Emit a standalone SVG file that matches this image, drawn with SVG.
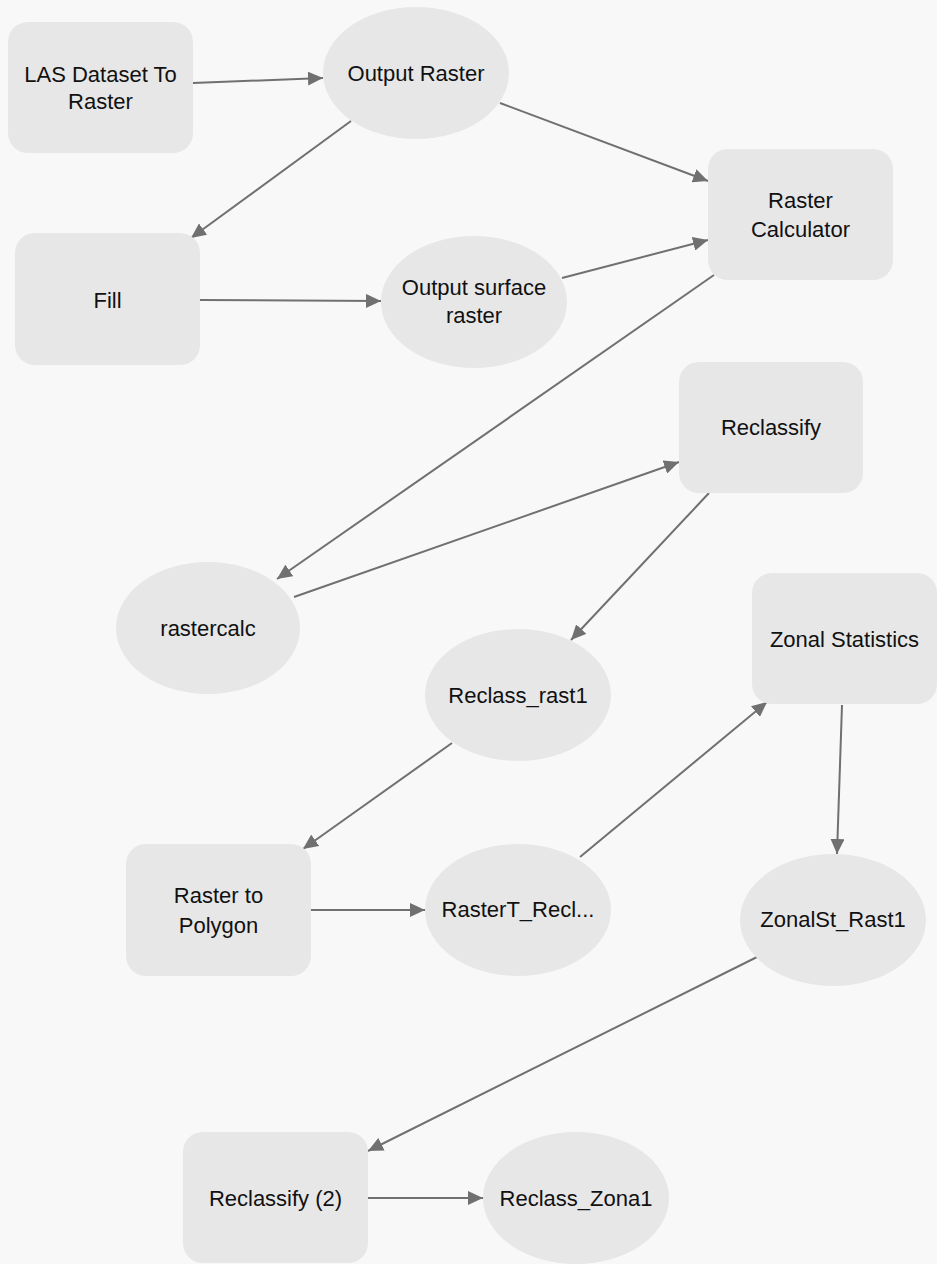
<svg xmlns="http://www.w3.org/2000/svg" width="937" height="1264" viewBox="0 0 937 1264">
<defs>
<style>
.bg{fill:#f8f8f8}
.n{fill:#e7e7e7}
.t{font-family:"Liberation Sans",Arial,sans-serif;font-size:22px;fill:#111;text-anchor:middle}
.e{stroke:#707070;stroke-width:2;fill:none;marker-end:url(#ah)}
</style>
<marker id="ah" markerUnits="userSpaceOnUse" markerWidth="16" markerHeight="14" refX="15" refY="7" orient="auto">
<path d="M0,0 L15,7 L0,14 z" fill="#707070"/>
</marker>
</defs>
<rect class="bg" x="0" y="0" width="937" height="1264"/>
<g id="connectors">
<line class="e" x1="193" y1="83" x2="323" y2="78"/>
<line class="e" x1="500" y1="103" x2="708" y2="181"/>
<line class="e" x1="351" y1="121" x2="191" y2="238"/>
<line class="e" x1="200" y1="300" x2="381" y2="301"/>
<line class="e" x1="562" y1="278" x2="708" y2="240"/>
<line class="e" x1="714" y1="275" x2="277" y2="579"/>
<line class="e" x1="294" y1="597" x2="679" y2="462"/>
<line class="e" x1="709" y1="493" x2="571" y2="640"/>
<line class="e" x1="452" y1="743" x2="303" y2="849"/>
<line class="e" x1="311" y1="910" x2="425" y2="910"/>
<line class="e" x1="580" y1="857" x2="767" y2="702"/>
<line class="e" x1="842" y1="705" x2="837" y2="854"/>
<line class="e" x1="757" y1="957" x2="368" y2="1151"/>
<line class="e" x1="368" y1="1198" x2="483" y2="1198"/>
</g>
<g id="las">
<rect class="n" x="8" y="22" width="185" height="131" rx="20"/>
<text class="t" x="100.5" y="82">LAS Dataset To</text>
<text class="t" x="100.5" y="109">Raster</text>
</g>
<g id="outputRaster">
<ellipse class="n" cx="416" cy="73" rx="93" ry="66"/>
<text class="t" x="416" y="81">Output Raster</text>
</g>
<g id="fill">
<rect class="n" x="15" y="233" width="185" height="132" rx="20"/>
<text class="t" x="107.5" y="308">Fill</text>
</g>
<g id="outputSurface">
<ellipse class="n" cx="474" cy="302" rx="93" ry="66"/>
<text class="t" x="474" y="295">Output surface</text>
<text class="t" x="474" y="323">raster</text>
</g>
<g id="rasterCalculator">
<rect class="n" x="708" y="149" width="185" height="131" rx="20"/>
<text class="t" x="800.5" y="208">Raster</text>
<text class="t" x="800.5" y="237">Calculator</text>
</g>
<g id="reclassify">
<rect class="n" x="679" y="362" width="184" height="131" rx="20"/>
<text class="t" x="771" y="435">Reclassify</text>
</g>
<g id="rastercalc">
<ellipse class="n" cx="208" cy="628" rx="92" ry="66"/>
<text class="t" x="208" y="636">rastercalc</text>
</g>
<g id="reclassRast1">
<ellipse class="n" cx="518" cy="695" rx="93" ry="66"/>
<text class="t" x="518" y="703">Reclass_rast1</text>
</g>
<g id="zonalStatistics">
<rect class="n" x="752" y="573" width="185" height="131" rx="20"/>
<text class="t" x="844.5" y="647">Zonal Statistics</text>
</g>
<g id="rasterToPolygon">
<rect class="n" x="126" y="844" width="185" height="132" rx="20"/>
<text class="t" x="218.5" y="903">Raster to</text>
<text class="t" x="218.5" y="933">Polygon</text>
</g>
<g id="rasterTRecl">
<ellipse class="n" cx="518" cy="910" rx="93" ry="66"/>
<text class="t" x="518" y="917">RasterT_Recl...</text>
</g>
<g id="zonalStRast1">
<ellipse class="n" cx="833" cy="920" rx="93" ry="66"/>
<text class="t" x="833" y="927">ZonalSt_Rast1</text>
</g>
<g id="reclassify2">
<rect class="n" x="183" y="1132" width="185" height="131" rx="20"/>
<text class="t" x="275.5" y="1206">Reclassify (2)</text>
</g>
<g id="reclassZona1">
<ellipse class="n" cx="576" cy="1198" rx="93" ry="66"/>
<text class="t" x="576" y="1206">Reclass_Zona1</text>
</g>
</svg>
